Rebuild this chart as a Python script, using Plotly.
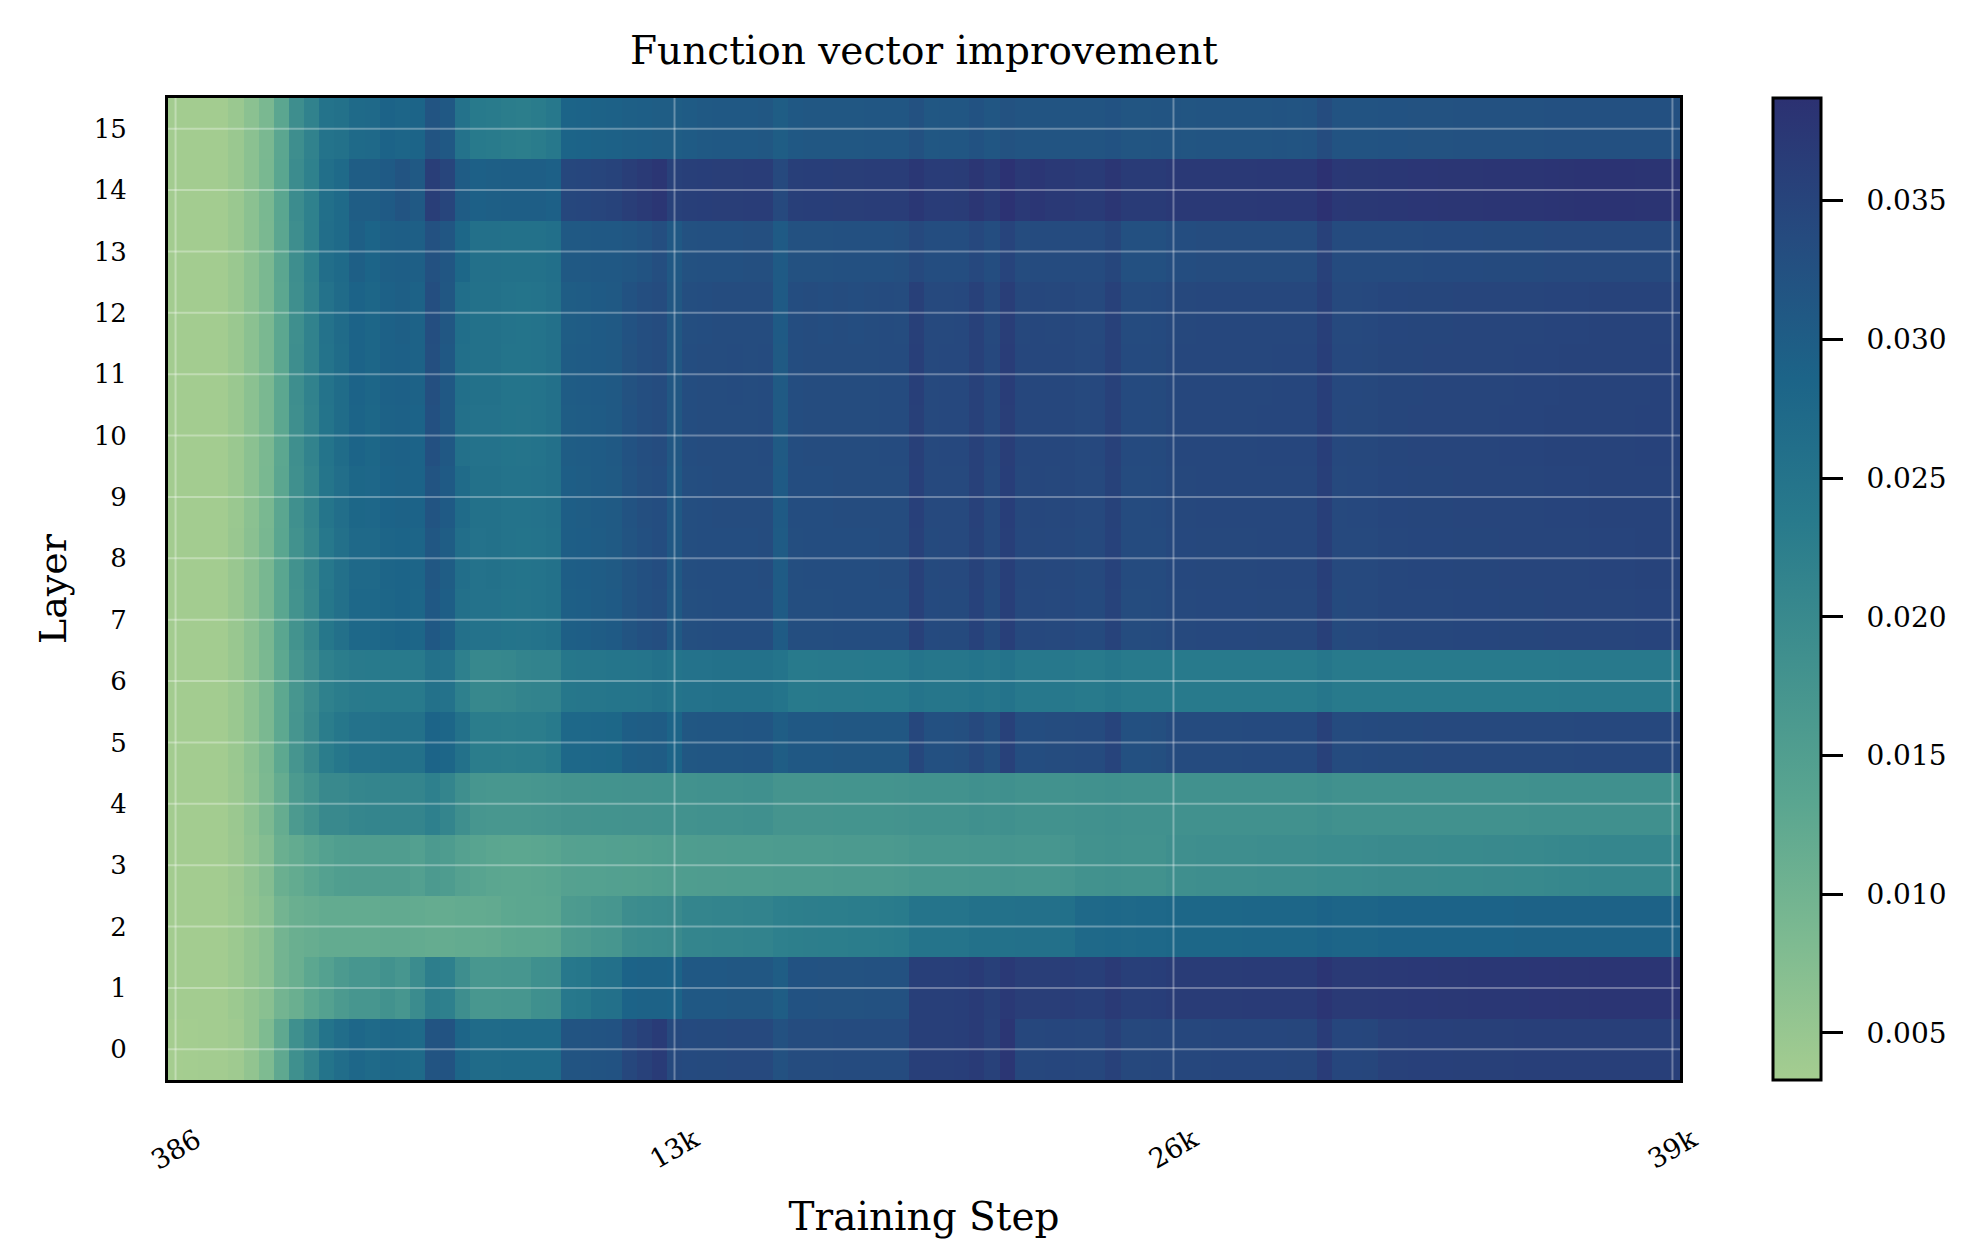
import plotly.graph_objects as go

# ---- data -------------------------------------------------------------
steps = [386 * (i + 1) for i in range(100)]          # checkpoint steps
layers = list(range(16))
tick_idx = [0, 33, 66, 99]
tick_text = ["386", "13k", "26k", "39k"]
cbar_ticks = [0.005, 0.010, 0.015, 0.020, 0.025, 0.030, 0.035]

L0 = [0.0033,0.0034,0.0035,0.0035,0.0040,0.0057,0.0082,0.0126,0.0186,0.0212,
      0.0250,0.0265,0.0279,0.0272,0.0278,0.0277,0.0273,0.0318,0.0320,0.0283,
      0.0270,0.0270,0.0271,0.0272,0.0272,0.0273,0.0318,0.0319,0.0320,0.0322,
      0.0345,0.0355,0.0368,0.0340,0.0338,0.0339,0.0339,0.0340,0.0340,0.0341,
      0.0325,0.0335,0.0335,0.0335,0.0336,0.0336,0.0336,0.0336,0.0337,0.0360,
      0.0360,0.0360,0.0361,0.0367,0.0355,0.0378,0.0345,0.0345,0.0346,0.0346,
      0.0345,0.0345,0.0355,0.0343,0.0343,0.0344,0.0345,0.0345,0.0345,0.0346,
      0.0346,0.0346,0.0346,0.0346,0.0347,0.0347,0.0365,0.0346,0.0346,0.0347,
      0.0356,0.0356,0.0357,0.0357,0.0357,0.0358,0.0358,0.0358,0.0358,0.0359,
      0.0359,0.0359,0.0359,0.0360,0.0360,0.0360,0.0360,0.0360,0.0360,0.0360]
L1 = [0.0035,0.0035,0.0036,0.0036,0.0044,0.0057,0.0068,0.0097,0.0110,0.0130,
      0.0145,0.0160,0.0170,0.0170,0.0180,0.0170,0.0195,0.0225,0.0222,0.0190,
      0.0168,0.0168,0.0170,0.0170,0.0186,0.0188,0.0240,0.0242,0.0255,0.0257,
      0.0287,0.0289,0.0290,0.0287,0.0310,0.0311,0.0311,0.0312,0.0312,0.0313,
      0.0300,0.0322,0.0322,0.0323,0.0323,0.0323,0.0324,0.0324,0.0324,0.0360,
      0.0360,0.0360,0.0361,0.0368,0.0358,0.0371,0.0362,0.0362,0.0362,0.0363,
      0.0360,0.0360,0.0370,0.0360,0.0360,0.0361,0.0366,0.0366,0.0366,0.0366,
      0.0366,0.0367,0.0367,0.0367,0.0367,0.0367,0.0380,0.0370,0.0370,0.0370,
      0.0372,0.0372,0.0373,0.0373,0.0374,0.0374,0.0375,0.0375,0.0376,0.0376,
      0.0377,0.0377,0.0378,0.0378,0.0379,0.0379,0.0380,0.0380,0.0380,0.0380]
L2 = [0.0035,0.0035,0.0036,0.0036,0.0044,0.0057,0.0068,0.0098,0.0110,0.0115,
      0.0120,0.0120,0.0120,0.0120,0.0121,0.0121,0.0120,0.0118,0.0118,0.0120,
      0.0120,0.0121,0.0128,0.0130,0.0130,0.0131,0.0158,0.0160,0.0168,0.0170,
      0.0192,0.0195,0.0197,0.0198,0.0210,0.0211,0.0212,0.0213,0.0214,0.0215,
      0.0222,0.0224,0.0225,0.0226,0.0227,0.0228,0.0229,0.0230,0.0232,0.0248,
      0.0248,0.0248,0.0249,0.0255,0.0255,0.0256,0.0258,0.0258,0.0258,0.0259,
      0.0275,0.0275,0.0276,0.0275,0.0276,0.0276,0.0280,0.0280,0.0280,0.0280,
      0.0280,0.0281,0.0281,0.0281,0.0281,0.0281,0.0288,0.0283,0.0283,0.0283,
      0.0287,0.0287,0.0287,0.0287,0.0288,0.0288,0.0288,0.0288,0.0288,0.0289,
      0.0289,0.0289,0.0289,0.0289,0.0290,0.0290,0.0290,0.0290,0.0290,0.0290]
L3 = [0.0035,0.0035,0.0036,0.0036,0.0045,0.0059,0.0075,0.0110,0.0120,0.0132,
      0.0145,0.0152,0.0153,0.0153,0.0153,0.0153,0.0146,0.0160,0.0156,0.0143,
      0.0136,0.0132,0.0130,0.0130,0.0131,0.0135,0.0143,0.0144,0.0145,0.0146,
      0.0147,0.0148,0.0152,0.0153,0.0154,0.0155,0.0155,0.0156,0.0157,0.0157,
      0.0158,0.0158,0.0159,0.0159,0.0160,0.0160,0.0161,0.0161,0.0162,0.0168,
      0.0168,0.0169,0.0169,0.0171,0.0170,0.0172,0.0170,0.0170,0.0171,0.0172,
      0.0180,0.0180,0.0182,0.0180,0.0181,0.0181,0.0188,0.0188,0.0189,0.0189,
      0.0190,0.0190,0.0191,0.0191,0.0192,0.0192,0.0195,0.0195,0.0195,0.0196,
      0.0198,0.0198,0.0198,0.0198,0.0199,0.0199,0.0199,0.0200,0.0200,0.0201,
      0.0202,0.0203,0.0205,0.0206,0.0207,0.0207,0.0208,0.0208,0.0208,0.0208]
L4 = [0.0035,0.0035,0.0036,0.0036,0.0046,0.0063,0.0085,0.0118,0.0160,0.0178,
      0.0200,0.0200,0.0208,0.0209,0.0210,0.0210,0.0209,0.0222,0.0210,0.0188,
      0.0170,0.0169,0.0168,0.0169,0.0170,0.0172,0.0177,0.0177,0.0178,0.0178,
      0.0179,0.0179,0.0180,0.0181,0.0181,0.0182,0.0183,0.0183,0.0184,0.0185,
      0.0175,0.0175,0.0175,0.0175,0.0176,0.0176,0.0176,0.0176,0.0177,0.0180,
      0.0180,0.0180,0.0181,0.0184,0.0183,0.0185,0.0180,0.0180,0.0181,0.0181,
      0.0182,0.0182,0.0184,0.0182,0.0182,0.0182,0.0182,0.0182,0.0182,0.0182,
      0.0182,0.0182,0.0183,0.0183,0.0183,0.0183,0.0187,0.0183,0.0183,0.0183,
      0.0182,0.0182,0.0182,0.0183,0.0183,0.0183,0.0183,0.0183,0.0183,0.0183,
      0.0184,0.0184,0.0184,0.0184,0.0184,0.0184,0.0184,0.0184,0.0184,0.0184]
L5 = [0.0035,0.0035,0.0036,0.0036,0.0047,0.0066,0.0088,0.0128,0.0172,0.0198,
      0.0228,0.0242,0.0253,0.0254,0.0255,0.0256,0.0255,0.0285,0.0282,0.0255,
      0.0228,0.0228,0.0227,0.0228,0.0229,0.0235,0.0276,0.0277,0.0278,0.0280,
      0.0298,0.0300,0.0302,0.0285,0.0313,0.0314,0.0315,0.0315,0.0316,0.0316,
      0.0300,0.0310,0.0311,0.0311,0.0312,0.0312,0.0312,0.0313,0.0313,0.0345,
      0.0327,0.0327,0.0328,0.0340,0.0328,0.0355,0.0333,0.0333,0.0334,0.0334,
      0.0337,0.0337,0.0350,0.0327,0.0327,0.0328,0.0337,0.0337,0.0337,0.0337,
      0.0337,0.0338,0.0338,0.0338,0.0338,0.0338,0.0355,0.0337,0.0337,0.0338,
      0.0339,0.0339,0.0339,0.0340,0.0340,0.0340,0.0340,0.0340,0.0341,0.0341,
      0.0341,0.0341,0.0341,0.0342,0.0342,0.0342,0.0342,0.0342,0.0342,0.0342]
L6 = [0.0035,0.0035,0.0036,0.0036,0.0047,0.0066,0.0088,0.0128,0.0170,0.0193,
      0.0220,0.0228,0.0234,0.0235,0.0236,0.0236,0.0235,0.0255,0.0254,0.0222,
      0.0204,0.0203,0.0205,0.0213,0.0214,0.0215,0.0243,0.0244,0.0245,0.0246,
      0.0247,0.0249,0.0255,0.0250,0.0254,0.0254,0.0255,0.0255,0.0255,0.0256,
      0.0250,0.0236,0.0236,0.0237,0.0237,0.0237,0.0238,0.0238,0.0238,0.0248,
      0.0244,0.0244,0.0245,0.0250,0.0244,0.0252,0.0240,0.0240,0.0240,0.0240,
      0.0236,0.0236,0.0242,0.0236,0.0236,0.0236,0.0235,0.0235,0.0235,0.0235,
      0.0235,0.0235,0.0235,0.0235,0.0235,0.0235,0.0245,0.0236,0.0236,0.0236,
      0.0235,0.0235,0.0235,0.0235,0.0236,0.0236,0.0236,0.0236,0.0236,0.0236,
      0.0236,0.0236,0.0237,0.0237,0.0237,0.0237,0.0237,0.0237,0.0237,0.0237]
L7 = [0.0035,0.0035,0.0036,0.0036,0.0048,0.0067,0.0090,0.0133,0.0178,0.0203,
      0.0242,0.0258,0.0276,0.0276,0.0282,0.0285,0.0282,0.0310,0.0298,0.0258,
      0.0253,0.0254,0.0250,0.0249,0.0251,0.0255,0.0296,0.0298,0.0301,0.0305,
      0.0318,0.0326,0.0331,0.0309,0.0329,0.0331,0.0332,0.0332,0.0332,0.0333,
      0.0303,0.0330,0.0331,0.0331,0.0332,0.0332,0.0332,0.0333,0.0333,0.0355,
      0.0338,0.0339,0.0339,0.0353,0.0339,0.0359,0.0341,0.0342,0.0341,0.0342,
      0.0338,0.0339,0.0352,0.0335,0.0335,0.0336,0.0341,0.0341,0.0342,0.0342,
      0.0342,0.0342,0.0343,0.0343,0.0343,0.0343,0.0358,0.0339,0.0340,0.0340,
      0.0344,0.0344,0.0345,0.0345,0.0345,0.0346,0.0346,0.0346,0.0347,0.0347,
      0.0347,0.0348,0.0348,0.0348,0.0349,0.0349,0.0349,0.0350,0.0350,0.0350]
L8 = [0.0035,0.0035,0.0036,0.0036,0.0048,0.0067,0.0090,0.0133,0.0180,0.0205,
      0.0240,0.0257,0.0275,0.0274,0.0283,0.0286,0.0283,0.0312,0.0300,0.0262,
      0.0254,0.0255,0.0251,0.0250,0.0252,0.0256,0.0297,0.0299,0.0302,0.0306,
      0.0319,0.0327,0.0332,0.0310,0.0330,0.0332,0.0333,0.0333,0.0333,0.0334,
      0.0304,0.0331,0.0332,0.0332,0.0333,0.0333,0.0333,0.0334,0.0334,0.0356,
      0.0339,0.0340,0.0340,0.0354,0.0340,0.0360,0.0342,0.0343,0.0342,0.0343,
      0.0339,0.0340,0.0353,0.0336,0.0336,0.0337,0.0342,0.0342,0.0343,0.0343,
      0.0343,0.0343,0.0344,0.0344,0.0344,0.0344,0.0359,0.0340,0.0341,0.0341,
      0.0345,0.0345,0.0346,0.0346,0.0346,0.0347,0.0347,0.0347,0.0348,0.0348,
      0.0348,0.0349,0.0349,0.0349,0.0350,0.0350,0.0350,0.0351,0.0351,0.0351]
L9 = [0.0035,0.0035,0.0036,0.0036,0.0047,0.0066,0.0089,0.0131,0.0185,0.0210,
      0.0246,0.0262,0.0280,0.0278,0.0287,0.0290,0.0287,0.0318,0.0305,0.0270,
      0.0255,0.0256,0.0252,0.0251,0.0253,0.0257,0.0298,0.0300,0.0303,0.0307,
      0.0320,0.0328,0.0333,0.0311,0.0331,0.0333,0.0334,0.0334,0.0334,0.0335,
      0.0305,0.0332,0.0333,0.0333,0.0334,0.0334,0.0334,0.0335,0.0335,0.0357,
      0.0340,0.0341,0.0341,0.0355,0.0341,0.0361,0.0343,0.0344,0.0343,0.0344,
      0.0340,0.0341,0.0354,0.0337,0.0337,0.0338,0.0343,0.0343,0.0344,0.0344,
      0.0344,0.0344,0.0345,0.0345,0.0345,0.0345,0.0360,0.0341,0.0342,0.0342,
      0.0346,0.0346,0.0347,0.0347,0.0347,0.0348,0.0348,0.0348,0.0349,0.0349,
      0.0349,0.0350,0.0350,0.0350,0.0351,0.0351,0.0351,0.0352,0.0352,0.0352]
L10 = [0.0035,0.0035,0.0036,0.0036,0.0047,0.0066,0.0088,0.0130,0.0188,0.0215,
       0.0250,0.0267,0.0286,0.0280,0.0290,0.0292,0.0288,0.0326,0.0310,0.0258,
       0.0254,0.0254,0.0250,0.0249,0.0251,0.0257,0.0300,0.0302,0.0304,0.0308,
       0.0322,0.0330,0.0334,0.0312,0.0332,0.0334,0.0335,0.0335,0.0335,0.0336,
       0.0306,0.0333,0.0334,0.0334,0.0335,0.0335,0.0335,0.0336,0.0336,0.0358,
       0.0341,0.0342,0.0342,0.0356,0.0342,0.0362,0.0344,0.0345,0.0344,0.0345,
       0.0341,0.0342,0.0355,0.0338,0.0338,0.0339,0.0344,0.0344,0.0345,0.0345,
       0.0345,0.0345,0.0346,0.0346,0.0346,0.0346,0.0361,0.0342,0.0343,0.0343,
       0.0347,0.0347,0.0348,0.0348,0.0348,0.0349,0.0349,0.0349,0.0350,0.0350,
       0.0350,0.0351,0.0351,0.0351,0.0352,0.0352,0.0352,0.0353,0.0353,0.0353]
L11 = [0.0035,0.0035,0.0036,0.0036,0.0047,0.0066,0.0088,0.0130,0.0189,0.0217,
       0.0252,0.0268,0.0287,0.0281,0.0291,0.0293,0.0289,0.0328,0.0311,0.0260,
       0.0255,0.0255,0.0250,0.0250,0.0252,0.0257,0.0301,0.0303,0.0305,0.0309,
       0.0323,0.0331,0.0335,0.0313,0.0332,0.0334,0.0335,0.0336,0.0335,0.0336,
       0.0306,0.0333,0.0334,0.0334,0.0335,0.0334,0.0335,0.0336,0.0336,0.0359,
       0.0341,0.0342,0.0342,0.0356,0.0342,0.0363,0.0344,0.0344,0.0344,0.0345,
       0.0341,0.0342,0.0356,0.0338,0.0338,0.0339,0.0344,0.0344,0.0344,0.0345,
       0.0345,0.0345,0.0345,0.0346,0.0346,0.0346,0.0361,0.0342,0.0342,0.0343,
       0.0347,0.0347,0.0347,0.0348,0.0348,0.0348,0.0349,0.0349,0.0349,0.0350,
       0.0350,0.0350,0.0351,0.0351,0.0351,0.0352,0.0352,0.0352,0.0353,0.0353]
L12 = [0.0035,0.0035,0.0036,0.0036,0.0047,0.0066,0.0088,0.0130,0.0188,0.0216,
       0.0253,0.0270,0.0288,0.0282,0.0292,0.0296,0.0290,0.0330,0.0312,0.0263,
       0.0256,0.0256,0.0251,0.0250,0.0252,0.0258,0.0300,0.0302,0.0305,0.0308,
       0.0322,0.0330,0.0334,0.0312,0.0331,0.0333,0.0335,0.0335,0.0334,0.0335,
       0.0305,0.0332,0.0334,0.0333,0.0335,0.0333,0.0334,0.0336,0.0335,0.0358,
       0.0340,0.0341,0.0342,0.0355,0.0341,0.0362,0.0343,0.0344,0.0343,0.0344,
       0.0340,0.0341,0.0355,0.0337,0.0337,0.0338,0.0343,0.0343,0.0344,0.0344,
       0.0344,0.0344,0.0345,0.0345,0.0345,0.0345,0.0360,0.0341,0.0341,0.0342,
       0.0346,0.0346,0.0347,0.0347,0.0347,0.0348,0.0348,0.0348,0.0349,0.0349,
       0.0349,0.0350,0.0350,0.0350,0.0351,0.0351,0.0351,0.0352,0.0352,0.0352]
L13 = [0.0035,0.0035,0.0036,0.0036,0.0047,0.0066,0.0088,0.0131,0.0190,0.0220,
       0.0262,0.0272,0.0295,0.0285,0.0296,0.0297,0.0295,0.0325,0.0314,0.0280,
       0.0258,0.0257,0.0255,0.0255,0.0256,0.0260,0.0308,0.0309,0.0310,0.0311,
       0.0315,0.0320,0.0330,0.0310,0.0325,0.0326,0.0327,0.0327,0.0328,0.0328,
       0.0305,0.0324,0.0325,0.0325,0.0326,0.0326,0.0327,0.0327,0.0328,0.0340,
       0.0332,0.0333,0.0333,0.0342,0.0333,0.0350,0.0335,0.0336,0.0336,0.0337,
       0.0336,0.0336,0.0347,0.0326,0.0327,0.0327,0.0333,0.0333,0.0334,0.0334,
       0.0334,0.0334,0.0335,0.0335,0.0335,0.0335,0.0355,0.0336,0.0336,0.0336,
       0.0337,0.0337,0.0337,0.0338,0.0338,0.0338,0.0338,0.0339,0.0339,0.0339,
       0.0339,0.0340,0.0340,0.0340,0.0340,0.0341,0.0341,0.0341,0.0341,0.0341]
L14 = [0.0035,0.0035,0.0036,0.0036,0.0047,0.0066,0.0089,0.0133,0.0193,0.0220,
       0.0260,0.0271,0.0300,0.0300,0.0305,0.0318,0.0308,0.0362,0.0348,0.0302,
       0.0293,0.0295,0.0298,0.0298,0.0297,0.0293,0.0344,0.0346,0.0348,0.0352,
       0.0362,0.0370,0.0378,0.0355,0.0360,0.0361,0.0362,0.0362,0.0363,0.0363,
       0.0340,0.0360,0.0361,0.0361,0.0362,0.0362,0.0363,0.0363,0.0364,0.0375,
       0.0365,0.0365,0.0366,0.0378,0.0368,0.0385,0.0371,0.0377,0.0372,0.0372,
       0.0368,0.0368,0.0378,0.0367,0.0368,0.0368,0.0371,0.0371,0.0372,0.0372,
       0.0372,0.0372,0.0373,0.0373,0.0373,0.0373,0.0387,0.0373,0.0374,0.0374,
       0.0376,0.0376,0.0377,0.0377,0.0378,0.0378,0.0378,0.0379,0.0379,0.0380,
       0.0380,0.0381,0.0382,0.0383,0.0383,0.0383,0.0383,0.0382,0.0382,0.0382]
L15 = [0.0035,0.0035,0.0036,0.0036,0.0047,0.0066,0.0088,0.0131,0.0189,0.0217,
       0.0251,0.0255,0.0272,0.0274,0.0287,0.0283,0.0286,0.0318,0.0310,0.0254,
       0.0236,0.0233,0.0228,0.0227,0.0230,0.0240,0.0286,0.0288,0.0289,0.0291,
       0.0295,0.0297,0.0300,0.0300,0.0303,0.0309,0.0310,0.0311,0.0311,0.0312,
       0.0300,0.0311,0.0312,0.0312,0.0313,0.0313,0.0314,0.0314,0.0315,0.0325,
       0.0313,0.0314,0.0314,0.0322,0.0315,0.0323,0.0318,0.0318,0.0319,0.0319,
       0.0318,0.0318,0.0322,0.0317,0.0317,0.0318,0.0318,0.0317,0.0318,0.0319,
       0.0318,0.0319,0.0319,0.0320,0.0319,0.0320,0.0334,0.0320,0.0320,0.0321,
       0.0322,0.0322,0.0323,0.0323,0.0323,0.0324,0.0324,0.0324,0.0325,0.0325,
       0.0325,0.0326,0.0326,0.0326,0.0326,0.0327,0.0327,0.0327,0.0327,0.0327]

z = [L0, L1, L2, L3, L4, L5, L6, L7, L8, L9, L10, L11, L12, L13, L14, L15]

# ---- style ------------------------------------------------------------
crest = [
    [0.000, "#a5cd90"], [0.143, "#7dba91"], [0.286, "#59a590"],
    [0.429, "#40908e"], [0.571, "#287a8c"], [0.714, "#1c6488"],
    [0.857, "#254b7f"], [1.000, "#2c3172"],
]
FONT = "DejaVu Serif"
GRID = "rgba(255,255,255,0.32)"
NB = "\u00a0"

tickvals = [steps[i] for i in tick_idx]
half = (steps[1] - steps[0]) / 2
x_range = [steps[0] - half, steps[-1] + half]
y_range = [layers[0] - 0.5, layers[-1] + 0.5]

fig = go.Figure(go.Heatmap(
    z=z, x=steps, y=layers, colorscale=crest, zmin=0.0033, zmax=0.0387,
    colorbar=dict(
        x=1.0615, xanchor="left", xpad=0, y=0.5, yanchor="middle", ypad=0,
        len=1, lenmode="fraction", thickness=48,
        outlinewidth=3, outlinecolor="black",
        ticks="outside", ticklen=21, tickwidth=3, tickcolor="black",
        tickvals=cbar_ticks, ticktext=[NB + NB + f"{v:.3f}" for v in cbar_ticks],
        tickfont=dict(family=FONT, size=28, color="black"),
    ),
))

shapes = []
for tv in tickvals:
    shapes.append(dict(type="line", xref="x", yref="paper", x0=tv, x1=tv, y0=0, y1=1,
                       line=dict(color=GRID, width=2), layer="above"))
for lv in layers:
    shapes.append(dict(type="line", xref="paper", yref="y", x0=0, x1=1, y0=lv, y1=lv,
                       line=dict(color=GRID, width=2), layer="above"))

# rotated x tick labels, centred on their ticks (matplotlib style)
annotations = [
    dict(x=tv, y=0, xref="x", yref="paper", text=tt, showarrow=False,
         textangle=-30, xanchor="center", yanchor="top", yshift=-40,
         font=dict(family=FONT, size=27, color="black"))
    for tv, tt in zip(tickvals, tick_text)
]

fig.update_layout(
    width=1976, height=1240,
    margin=dict(l=168, r=296, t=98, b=160),
    paper_bgcolor="white", plot_bgcolor="white",
    font=dict(family=FONT, color="black"),
    title=dict(text="Function vector improvement", x=0.5, xref="paper", xanchor="center",
               y=1 - 50 / 1240, yref="container", yanchor="middle",
               font=dict(family=FONT, size=39, color="black")),
    shapes=shapes,
    annotations=annotations,
    xaxis=dict(
        range=x_range, autorange=False,
        tickvals=tickvals, showticklabels=False,
        showgrid=False, zeroline=False, ticks="",
        showline=True, mirror=True, linecolor="black", linewidth=3,
        title=dict(text="Training Step", standoff=121,
                   font=dict(family=FONT, size=39, color="black")),
    ),
    yaxis=dict(
        range=y_range, autorange=False,
        tickvals=layers, showgrid=False, zeroline=False, ticks="",
        showline=True, mirror=True, linecolor="black", linewidth=3,
        ticklabelstandoff=33,
        tickfont=dict(family=FONT, size=26, color="black"),
        title=dict(text="Layer", standoff=16,
                   font=dict(family=FONT, size=38, color="black")),
    ),
)

fig.write_html("out.html")
